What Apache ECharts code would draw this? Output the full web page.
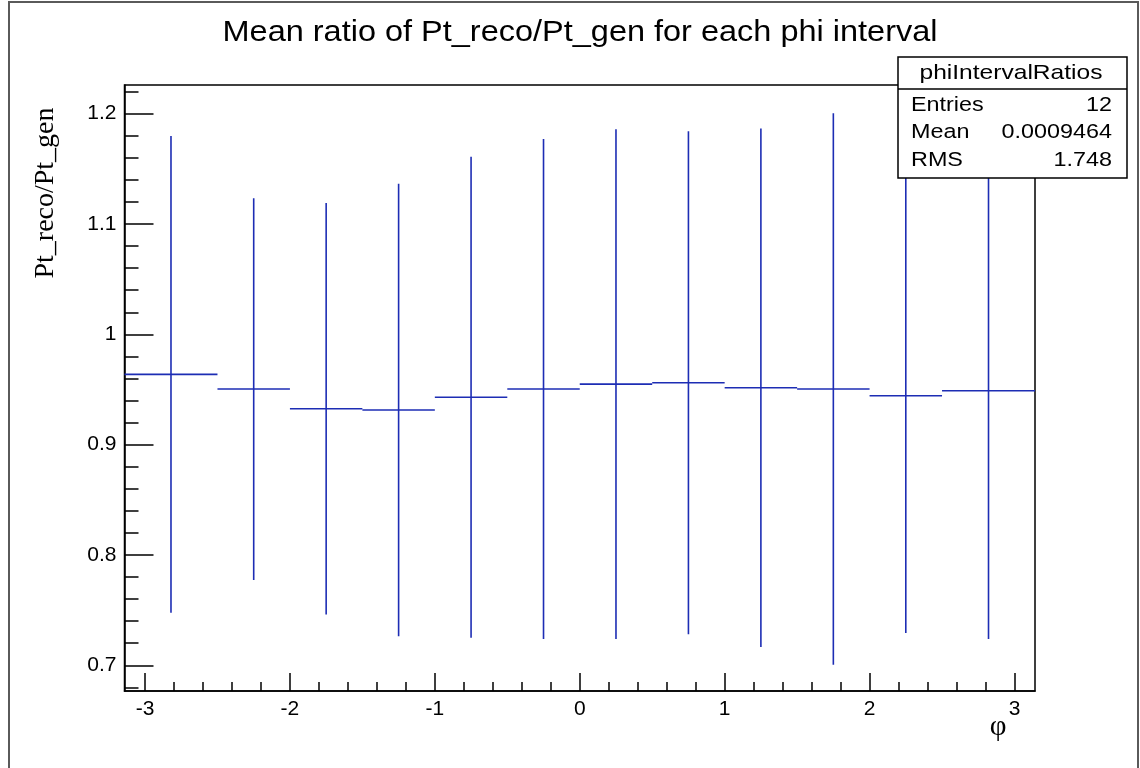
<!DOCTYPE html>
<html>
<head>
<meta charset="utf-8">
<script src="https://cdn.jsdelivr.net/npm/echarts@6/dist/echarts.min.js"></script>
<style>
html,body{margin:0;padding:0;background:#fff;}
#chart{width:1140px;height:768px;}
</style>
</head>
<body>
<div id="chart"></div>
<script>
// ---- data ----
const binEdges = [-Math.PI, -2.5, -2, -1.5, -1, -0.5, 0, 0.5, 1, 1.5, 2, 2.5, Math.PI];
const binMeans = [0.9637, 0.9504, 0.9326, 0.9314, 0.9429, 0.9504, 0.9549, 0.9561, 0.9516, 0.9504, 0.9443, 0.9489];
const binErrors = [0.216, 0.173, 0.1865, 0.205, 0.218, 0.2266, 0.231, 0.228, 0.235, 0.250, 0.215, 0.225];
const xMajorTicks = [-3, -2, -1, 0, 1, 2, 3];
const xMinorTicks = [-2.8, -2.6, -2.4, -2.2, -1.8, -1.6, -1.4, -1.2, -0.8, -0.6, -0.4, -0.2,
                     0.2, 0.4, 0.6, 0.8, 1.2, 1.4, 1.6, 1.8, 2.2, 2.4, 2.6, 2.8];
const yMajorTicks = [0.7, 0.8, 0.9, 1.0, 1.1, 1.2];
const yMinorTicks = [0.68, 0.72, 0.74, 0.76, 0.78, 0.82, 0.84, 0.86, 0.88, 0.92, 0.94, 0.96, 0.98,
                     1.02, 1.04, 1.06, 1.08, 1.12, 1.14, 1.16, 1.18, 1.22];
const titleText = 'Mean ratio of Pt_reco/Pt_gen for each phi interval';
const yTitle = 'Pt_reco/Pt_gen';
const xTitle = 'φ';
const statsName = 'phiIntervalRatios';
const statsLabels = ['Entries', 'Mean', 'RMS'];
const statsValues = ['12', '0.0009464', '1.748'];

const BLUE = '#1d2db4';
const hSegData = binMeans.map((m, i) => [binEdges[i], binEdges[i + 1], m]);
const vErrData = binMeans.map((m, i) => [(binEdges[i] + binEdges[i + 1]) / 2, m - binErrors[i], m + binErrors[i]]);

const chart = echarts.init(document.getElementById('chart'), null, {renderer: 'canvas'});
const sans = 'Liberation Sans, Arial, Helvetica, sans-serif';
const serif = 'Liberation Serif, Times New Roman, serif';

const statsGraphics = [
  {type: 'rect', shape: {x: 898, y: 57, width: 229, height: 121}, style: {fill: '#fff', stroke: '#000', lineWidth: 1.5}, z: 100},
  {type: 'line', shape: {x1: 898, y1: 89, x2: 1127, y2: 89}, style: {stroke: '#000', lineWidth: 1.5}, z: 101},
  {type: 'text', x: 1011, y: 73, scaleX: 1.17, style: {text: statsName, font: '21px ' + sans, fill: '#000', textAlign: 'center', textVerticalAlign: 'middle'}, z: 101}
];
statsLabels.forEach((lab, i) => {
  const yy = 105 + i * 27.5;
  statsGraphics.push({type: 'text', x: 911, y: yy, scaleX: 1.14, style: {text: lab, font: '20.5px ' + sans, fill: '#000', textAlign: 'left', textVerticalAlign: 'middle'}, z: 101});
  statsGraphics.push({type: 'text', x: 1112, y: yy, scaleX: 1.14, style: {text: statsValues[i], font: '20.5px ' + sans, fill: '#000', textAlign: 'right', textVerticalAlign: 'middle'}, z: 101});
});

const option = {
  animation: false,
  backgroundColor: '#fff',
  grid: {
    left: 124.5, top: 85, right: 105, bottom: 77,
    show: true, borderColor: '#000', borderWidth: 1.5, backgroundColor: 'transparent',
    containLabel: false, outerBoundsMode: 'none'
  },
  xAxis: [
    {
      type: 'value', min: -Math.PI, max: Math.PI, position: 'bottom',
      axisLine: {show: true, onZero: false, lineStyle: {color: '#000', width: 1.5}},
      axisTick: {show: true, inside: true, length: 18, customValues: xMajorTicks, lineStyle: {color: '#000', width: 1.5}},
      axisLabel: {show: true, customValues: xMajorTicks, fontSize: 21, fontFamily: sans, color: '#000', margin: 8},
      splitLine: {show: false}
    },
    {
      type: 'value', min: -Math.PI, max: Math.PI, position: 'bottom',
      axisLine: {show: false, onZero: false},
      axisTick: {show: true, inside: true, length: 9, customValues: xMinorTicks, lineStyle: {color: '#000', width: 1.5}},
      axisLabel: {show: false},
      splitLine: {show: false}
    }
  ],
  yAxis: [
    {
      type: 'value', min: 0.6767, max: 1.2260, position: 'left',
      axisLine: {show: true, onZero: false, lineStyle: {color: '#000', width: 1.5}},
      axisTick: {show: true, inside: true, length: 29, customValues: yMajorTicks, lineStyle: {color: '#000', width: 1.5}},
      axisLabel: {show: true, customValues: yMajorTicks, fontSize: 21, fontFamily: sans, color: '#000', margin: 8,
        formatter: v => String(Math.round(v * 10) / 10)},
      splitLine: {show: false}
    },
    {
      type: 'value', min: 0.6767, max: 1.2260, position: 'left',
      axisLine: {show: false, onZero: false},
      axisTick: {show: true, inside: true, length: 14, customValues: yMinorTicks, lineStyle: {color: '#000', width: 1.5}},
      axisLabel: {show: false},
      splitLine: {show: false}
    }
  ],
  series: [
    {
      type: 'custom', name: 'means', xAxisIndex: 0, yAxisIndex: 0,
      data: hSegData, encode: {x: [0, 1], y: 2},
      renderItem: (params, api) => {
        const p1 = api.coord([api.value(0), api.value(2)]);
        const p2 = api.coord([api.value(1), api.value(2)]);
        return {type: 'line', shape: {x1: p1[0], y1: p1[1], x2: p2[0], y2: p2[1]},
          style: {stroke: BLUE, lineWidth: 1.6}};
      },
      z: 5
    },
    {
      type: 'custom', name: 'errors', xAxisIndex: 0, yAxisIndex: 0,
      data: vErrData, encode: {x: 0, y: [1, 2]},
      renderItem: (params, api) => {
        const p1 = api.coord([api.value(0), api.value(1)]);
        const p2 = api.coord([api.value(0), api.value(2)]);
        return {type: 'line', shape: {x1: p1[0], y1: p1[1], x2: p2[0], y2: p2[1]},
          style: {stroke: BLUE, lineWidth: 1.6}};
      },
      z: 5
    }
  ],
  graphic: [
    {type: 'rect', shape: {x: 9, y: 2, width: 1129, height: 780}, style: {fill: 'none', stroke: '#5a5a5a', lineWidth: 2}, z: 200},
    {type: 'text', x: 580, y: 33, scaleX: 1.12, style: {text: titleText, font: '29px ' + sans, fill: '#000', textAlign: 'center', textVerticalAlign: 'middle'}, z: 50},
    {type: 'text', x: 46, y: 193, rotation: Math.PI / 2, style: {text: yTitle, font: '28px ' + serif, fill: '#000', textAlign: 'center', textVerticalAlign: 'middle'}, z: 50},
    {type: 'text', x: 998, y: 727, style: {text: xTitle, font: '29px ' + serif, fill: '#000', textAlign: 'center', textVerticalAlign: 'middle'}, z: 50}
  ].concat(statsGraphics)
};
chart.setOption(option);
</script>
</body>
</html>
